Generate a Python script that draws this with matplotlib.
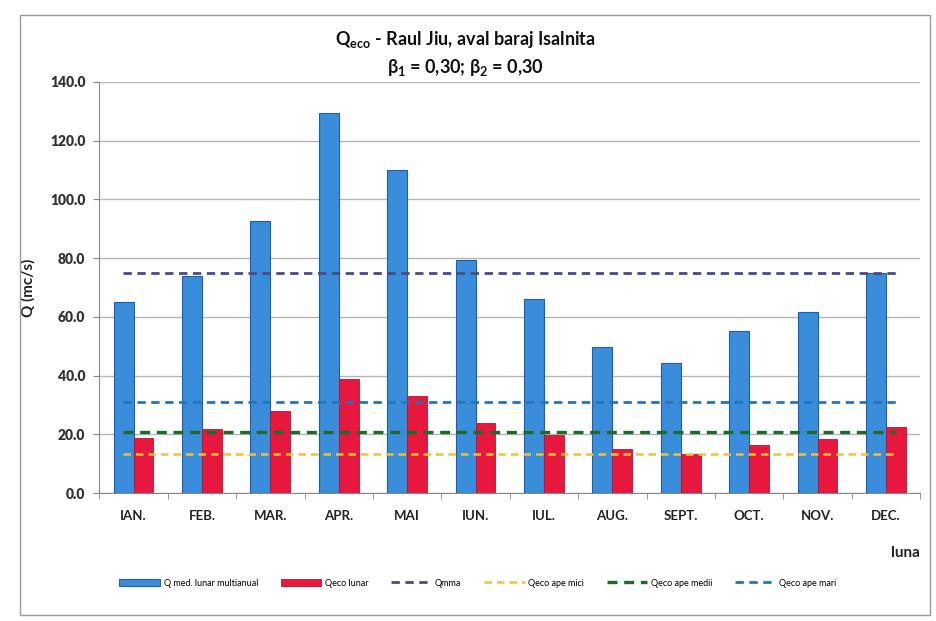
import matplotlib
matplotlib.use("Agg")
import matplotlib.pyplot as plt
import numpy as np
from matplotlib.patches import Rectangle

plt.rcParams['font.family'] = ['Lato', 'DejaVu Sans']
plt.rcParams['mathtext.fontset'] = 'custom'
plt.rcParams['mathtext.rm'] = 'Lato'
plt.rcParams['mathtext.bf'] = 'Lato:bold'
plt.rcParams['mathtext.it'] = 'Lato:italic'

months = ["IAN.", "FEB.", "MAR.", "APR.", "MAI", "IUN.", "IUL.", "AUG.", "SEPT.", "OCT.", "NOV.", "DEC."]
q_med = [64.9, 73.9, 92.8, 129.4, 110.0, 79.5, 66.0, 49.7, 44.2, 55.2, 61.7, 75.1]
q_eco = [18.6, 21.8, 27.8, 38.8, 33.0, 23.8, 19.8, 14.9, 13.2, 16.5, 18.5, 22.5]
qmma = 75.1
qeco_mici = 13.2
qeco_medii = 20.8
qeco_mari = 31.0
yticks = [0, 20, 40, 60, 80, 100, 120, 140]

fig = plt.figure(figsize=(9.37, 6.21), dpi=100)
fig.patches.append(Rectangle((20/937, 1-615/621), 910/937, 600/621, transform=fig.transFigure,
                             fill=False, edgecolor='#9a9a9a', linewidth=1.0))
ax = fig.add_axes([0.106, 0.206, 0.876, 0.662])

x = np.arange(len(months))
w = 0.29
b1 = ax.bar(x - w/2, q_med, width=w, color='#3A8DDA', edgecolor='#1F5FA8', linewidth=0.8,
            label='Q med. lunar multianual', zorder=3)
b2 = ax.bar(x + w/2, q_eco, width=w, color='#E8173D', edgecolor='#C0102E', linewidth=0.6,
            label='Qeco lunar', zorder=3)

xl = np.array([x[0] - 0.15, x[-1] + 0.15])
l1, = ax.plot(xl, [qmma]*2, linestyle=(0, (3, 2)), color='#4A4A86', linewidth=2.0, label='Qmma', zorder=4)
l2, = ax.plot(xl, [qeco_mici]*2, linestyle=(0, (3, 2)), color='#F2C12E', linewidth=1.8, label='Qeco ape mici', zorder=4)
l3, = ax.plot(xl, [qeco_medii]*2, linestyle=(0, (3, 2)), color='#1E6A2C', linewidth=2.4, label='Qeco ape medii', zorder=4)
l4, = ax.plot(xl, [qeco_mari]*2, linestyle=(0, (3, 2)), color='#2474BF', linewidth=2.0, label='Qeco ape mari', zorder=4)

ax.set_xlim(-0.5, len(months) - 0.5)
ax.set_ylim(0, 140)
ax.set_yticks(yticks)
ax.set_yticklabels([f"{v:.1f}" for v in yticks], fontsize=10, fontweight='heavy', color='#333333')
ax.set_xticks(x)
ax.set_xticklabels(months, fontsize=9.5, fontweight='bold', color='#222222')
ax.set_xticks(np.arange(-0.5, len(months)), minor=True)
ax.tick_params(axis='x', which='major', length=0, pad=12)
ax.tick_params(axis='x', which='minor', length=4, color='#888888')
ax.tick_params(axis='y', length=4, color='#888888', pad=6)
ax.yaxis.grid(True, color='#b5b5b5', linewidth=1.0, zorder=0)
ax.set_axisbelow(True)
for s in ['top', 'right']:
    ax.spines[s].set_visible(False)
for s in ['left', 'bottom']:
    ax.spines[s].set_color('#888888')

ax.set_ylabel('Q (mc/s)', fontsize=11, fontweight='bold', color='#222222', labelpad=10)
fig.text(905/937, 1-553/621, 'luna', fontsize=11, fontweight='bold', color='#222222', ha='center', va='center')

fig.text(465/937, 1-40/621, r"$\mathbf{Q_{eco}}$ - Raul Jiu, aval baraj Isalnita", fontsize=13,
         fontweight='bold', ha='center', va='center', color='#111111')
fig.text(465/937, 1-68/621, r"$\mathbf{\beta_1}$ = 0,30; $\mathbf{\beta_2}$ = 0,30", fontsize=13,
         fontweight='bold', ha='center', va='center', color='#111111')

handles = [b1, b2, l1, l2, l3, l4]
fig.legend(handles=handles, labels=[h.get_label() for h in handles], loc='center',
           bbox_to_anchor=(0.51, 1-583/621), ncol=6, fontsize=6.5, frameon=False,
           handlelength=4.5, columnspacing=2.5, handletextpad=0.4)

fig.savefig('out.png', dpi=100)
